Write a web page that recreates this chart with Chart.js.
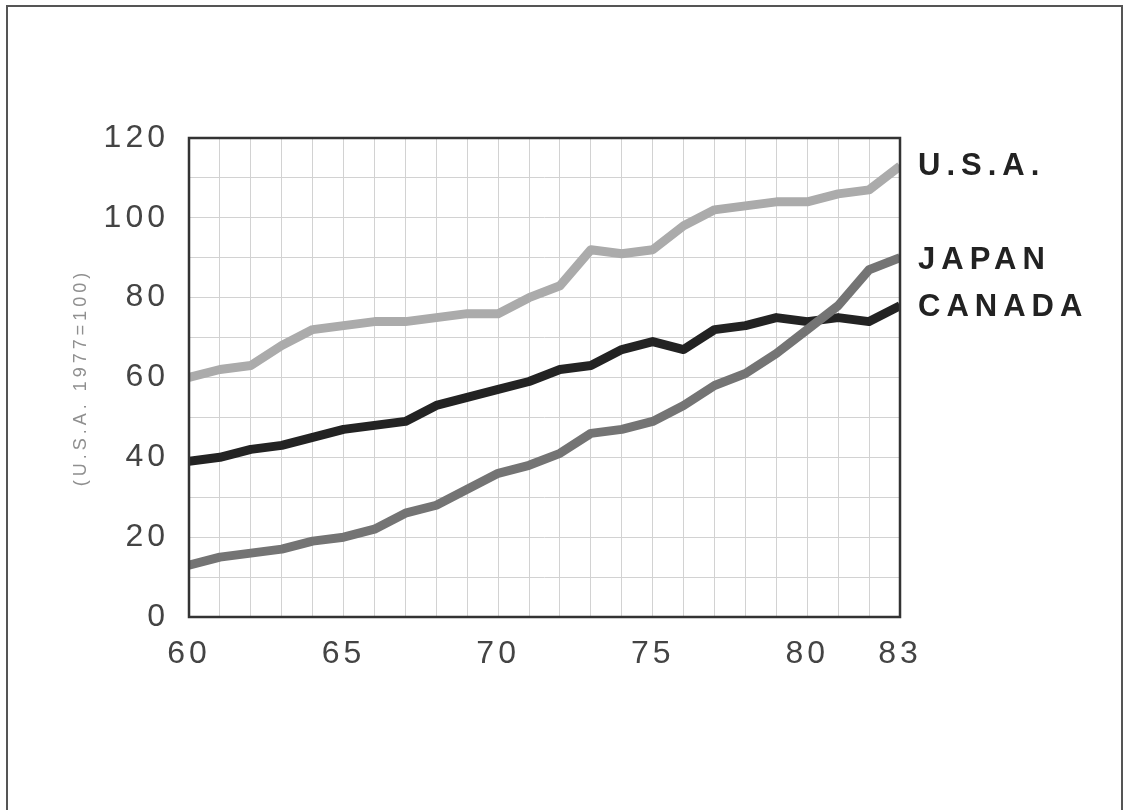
<!DOCTYPE html>
<html>
<head>
<meta charset="utf-8">
<script src="https://cdn.jsdelivr.net/npm/chart.js@4/dist/chart.umd.min.js"></script>
<style>
  html, body { margin: 0; padding: 0; background: #ffffff; }
  canvas { display: block; }
</style>
</head>
<body>
<canvas id="chart" width="1124" height="810"></canvas>
<script>
// anos 1960-1983
const years = [60, 61, 62, 63, 64, 65, 66, 67, 68, 69, 70, 71, 72, 73, 74, 75, 76, 77, 78, 79, 80, 81, 82, 83];
const usaValues = [60, 62, 63, 68, 72, 73, 74, 74, 75, 76, 76, 80, 83, 92, 91, 92, 98, 102, 103, 104, 104, 106, 107, 113];
const japanValues = [13, 15, 16, 17, 19, 20, 22, 26, 28, 32, 36, 38, 41, 46, 47, 49, 53, 58, 61, 66, 72, 78, 87, 90];
const canadaValues = [39, 40, 42, 43, 45, 47, 48, 49, 53, 55, 57, 59, 62, 63, 67, 69, 67, 72, 73, 75, 74, 75, 74, 78];
const xTickLabels = [60, 65, 70, 75, 80, 83];
const yTickLabels = [0, 20, 40, 60, 80, 100, 120];
const yAxisTitle = '(U.S.A. 1977=100)';

const seriesLabels = [
    { text: 'U.S.A.', y: 166 },
    { text: 'JAPAN', y: 260 },
    { text: 'CANADA', y: 307 }
];

function toPoints(values) {
    return years.map((yr, i) => ({ x: yr, y: values[i] }));
}

// moldura da página + espaçamento das letras
const framePlugin = {
    id: 'frame',
    beforeDraw(chart) {
        const ctx = chart.ctx;
        ctx.save();
        ctx.fillStyle = '#ffffff';
        ctx.fillRect(0, 0, chart.width, chart.height);
        ctx.strokeStyle = '#555555';
        ctx.lineWidth = 2;
        ctx.strokeRect(7, 6, 1115, 820);
        ctx.restore();
        ctx.letterSpacing = '4px';
    },
    afterDraw(chart) {
        const ctx = chart.ctx;
        const area = chart.chartArea;
        ctx.save();
        ctx.letterSpacing = '0px';
        ctx.strokeStyle = '#333333';
        ctx.lineWidth = 2.5;
        ctx.strokeRect(area.left, area.top, area.right - area.left, area.bottom - area.top);

        // rótulos das séries à direita
        ctx.letterSpacing = '6px';
        ctx.fillStyle = '#222222';
        ctx.font = 'bold 31px "Liberation Sans", Arial, sans-serif';
        ctx.textAlign = 'left';
        ctx.textBaseline = 'middle';
        seriesLabels.forEach(l => ctx.fillText(l.text, area.right + 18, l.y));
        ctx.restore();
        ctx.letterSpacing = '0px';
    }
};

new Chart(document.getElementById('chart').getContext('2d'), {
    type: 'line',
    data: {
        datasets: [
            {
                label: 'U.S.A.',
                data: toPoints(usaValues),
                borderColor: '#ababab',
                borderWidth: 9,
                order: 2
            },
            {
                label: 'CANADA',
                data: toPoints(canadaValues),
                borderColor: '#232323',
                borderWidth: 9,
                order: 1
            },
            {
                label: 'JAPAN',
                data: toPoints(japanValues),
                borderColor: '#747474',
                borderWidth: 9,
                order: 0
            }
        ]
    },
    options: {
        responsive: false,
        animation: false,
        devicePixelRatio: 1,
        layout: { padding: { left: 0, top: 138, right: 224, bottom: 0 } },
        elements: {
            point: { radius: 0 },
            line: { tension: 0, borderJoinStyle: 'round', borderCapStyle: 'butt' }
        },
        plugins: {
            legend: { display: false },
            tooltip: { enabled: false }
        },
        scales: {
            x: {
                type: 'linear',
                min: 60,
                max: 83,
                afterBuildTicks: scale => {
                    scale.ticks = years.map(v => ({ value: v }));
                },
                afterFit: scale => { scale.height = 193; },
                grid: { color: '#d2d2d2', lineWidth: 1, drawTicks: false },
                border: { display: false },
                ticks: {
                    autoSkip: false,
                    maxRotation: 0,
                    padding: 18,
                    color: '#444444',
                    font: { family: '"Liberation Sans", Arial, sans-serif', size: 32 },
                    callback: v => xTickLabels.includes(v) ? String(v) : ''
                }
            },
            y: {
                min: 0,
                max: 120,
                afterBuildTicks: scale => {
                    const t = [];
                    for (let v = 0; v <= 120; v += 10) t.push({ value: v });
                    scale.ticks = t;
                },
                afterFit: scale => { scale.width = 189; },
                grid: { color: '#d2d2d2', lineWidth: 1, drawTicks: false },
                border: { display: false },
                title: {
                    display: true,
                    text: yAxisTitle,
                    color: '#8f8f8f',
                    font: { family: '"Liberation Sans", Arial, sans-serif', size: 18 },
                    padding: { top: 70, bottom: 0 }
                },
                ticks: {
                    autoSkip: false,
                    padding: 20,
                    color: '#444444',
                    font: { family: '"Liberation Sans", Arial, sans-serif', size: 32 },
                    callback: v => yTickLabels.includes(v) ? String(v) : ''
                }
            }
        }
    },
    plugins: [framePlugin]
});
</script>
</body>
</html>
